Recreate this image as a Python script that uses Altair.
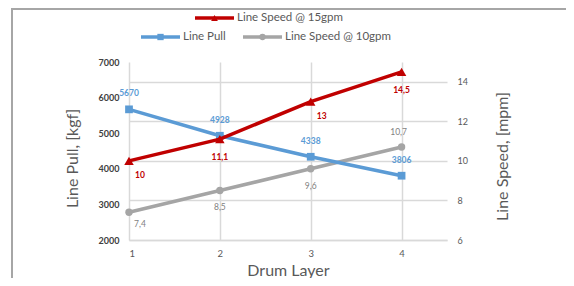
import altair as alt
import pandas as pd

# ---- data ----
layers = [1, 2, 3, 4]
line_pull = [5670, 4928, 4338, 3806]
speed_10gpm = [7.4, 8.5, 9.6, 10.7]
speed_15gpm = [10.0, 11.1, 13.0, 14.5]
x_ticks = [1, 2, 3, 4]
right_ticks = [6, 8, 10, 12, 14]
left_ticks = [2000, 3000, 4000, 5000, 6000, 7000]
series_names = ["Line Speed @ 15gpm", "Line Pull", "Line Speed @ 10gpm"]

BLUE = "#5B9BD5"
RED = "#C00000"
GRAY = "#A5A5A5"
TXT = "#595959"
GRID = "#D9D9D9"
FONT = "Lato"


def fmt(v):
    return f"{v:g}".replace(".", ",")


df = pd.DataFrame({
    "layer": layers,
    "idx": list(range(len(layers))),
    "pull": line_pull,
    "pull_lbl": [str(v) for v in line_pull],
    "s10": speed_10gpm,
    "s10_lbl": [fmt(v) for v in speed_10gpm],
    "s15": speed_15gpm,
    "s15_lbl": [fmt(v) for v in speed_15gpm],
})

W, H = 318, 178

x_enc = alt.X("layer:Q", scale=alt.Scale(domain=[1, 4.5], nice=False, zero=False),
              axis=alt.Axis(values=x_ticks, format="d", grid=True, gridColor=GRID, gridWidth=1.5,
                            ticks=False, domain=True, domainColor=GRID, domainWidth=1.5,
                            labelColor=TXT, labelFontSize=9.5, labelPadding=8,
                            title="Drum Layer", titleFontSize=16, titleColor=TXT,
                            titleFontWeight="normal", titleY=30, titleBaseline="middle"))

left_scale = alt.Scale(domain=[2000, 7000], nice=False, zero=False)
right_scale = alt.Scale(domain=[6, 15], nice=False, zero=False)

y_gray = alt.Y("s10:Q", scale=right_scale,
               axis=alt.Axis(orient="right", values=right_ticks, format="d", grid=True, gridColor=GRID,
                             gridWidth=1.5, ticks=False, domain=False, labelColor=TXT, labelFontSize=9,
                             labelPadding=10, title="Line Speed, [mpm]", titleFontSize=16,
                             titleColor=TXT, titleFontWeight="normal", titleAngle=270,
                             titleX=55, titleY=94, titleAlign="center", titleBaseline="middle"))
y_blue = alt.Y("pull:Q", scale=left_scale,
               axis=alt.Axis(orient="left", values=left_ticks, format="d", grid=False, ticks=False,
                             domain=False, labelColor="#404040", labelFontSize=9, labelFontWeight="bold",
                             labelPadding=10, title="Line Pull, [kgf]", titleFontSize=16,
                             titleColor=TXT, titleFontWeight="normal", titleAngle=270,
                             titleX=-57, titleY=96, titleAlign="center", titleBaseline="middle"))
y_red = alt.Y("s15:Q", scale=right_scale,
              axis=alt.Axis(orient="right", labels=False, ticks=False, domain=False, grid=False,
                            title="", values=right_ticks))

base = alt.Chart(df)


def lbl(y, txtfield, color, filt, dx, dy, size, weight):
    return base.transform_filter(filt).mark_text(
        color=color, fontSize=size, fontWeight=weight, dx=dx, dy=dy, font=FONT
    ).encode(x=x_enc, y=y, text=f"{txtfield}:N")


# ---- gray series (right axis with grid) ----
gray_group = alt.layer(
    base.mark_line(color=GRAY, strokeWidth=3.5).encode(x=x_enc, y=y_gray),
    base.mark_point(shape="circle", filled=True, opacity=1, size=55, color=GRAY).encode(x=x_enc, y=y_gray),
    lbl(y_gray, "s10_lbl", "#7F7F7F", "datum.idx == 0", 11, 12, 8.5, "normal"),
    lbl(y_gray, "s10_lbl", "#7F7F7F", "datum.idx == 1", 0, 16, 8.5, "normal"),
    lbl(y_gray, "s10_lbl", "#7F7F7F", "datum.idx == 2", 0, 17, 8.5, "normal"),
    lbl(y_gray, "s10_lbl", "#7F7F7F", "datum.idx == 3", -3, -15, 8.5, "normal"),
)

# ---- blue series (left axis) ----
blue_group = alt.layer(
    base.mark_line(color=BLUE, strokeWidth=3.5).encode(x=x_enc, y=y_blue),
    base.mark_point(shape="square", filled=True, opacity=1, size=60, color=BLUE).encode(x=x_enc, y=y_blue),
    lbl(y_blue, "pull_lbl", BLUE, "true", 0, -16, 8.5, "bold"),
)

# ---- red series (same right scale, invisible axis) ----
red_group = alt.layer(
    base.mark_line(color=RED, strokeWidth=3.5).encode(x=x_enc, y=y_red),
    base.mark_point(shape="triangle-up", filled=True, opacity=1, size=90, color=RED).encode(x=x_enc, y=y_red),
    lbl(y_red, "s15_lbl", RED, "datum.idx == 0 || datum.idx == 2", 11, 14, 8.5, "bold"),
    lbl(y_red, "s15_lbl", RED, "datum.idx == 1 || datum.idx == 3", 0, 18, 8.5, "bold"),
)

# ---- manual legend (Excel style, two rows) ----
leg_df = pd.DataFrame({"series": series_names, "i": [0, 1, 2]})
leg = alt.Chart(leg_df)


def legend_item(i, color, shape, size, x0, y):
    d = leg.transform_filter(f"datum.i == {i}")
    r = d.mark_rule(color=color, strokeWidth=3.5).encode(
        x=alt.value(x0), x2=alt.value(x0 + 39), y=alt.value(y))
    p = d.mark_point(shape=shape, filled=True, opacity=1, size=size, color=color).encode(
        x=alt.value(x0 + 19.5), y=alt.value(y))
    t = d.mark_text(align="left", baseline="middle", fontSize=11.5, color=TXT, font=FONT).encode(
        x=alt.value(x0 + 42), y=alt.value(y), text="series:N")
    return alt.layer(r, p, t)


legend = alt.layer(
    legend_item(0, RED, "triangle-up", 45, 66, -44),
    legend_item(1, BLUE, "square", 40, 12, -25),
    legend_item(2, GRAY, "circle", 40, 114, -25),
)

# ---- frame lines of the screenshot ----
frame_df = pd.DataFrame({"k": [0]})
frame = alt.layer(
    alt.Chart(frame_df).mark_rule(color="#A6A6A6", strokeWidth=2).encode(
        x=alt.value(-117), y=alt.value(-60), y2=alt.value(H + 60)),
    alt.Chart(frame_df).mark_rule(color="#A6A6A6", strokeWidth=2).encode(
        x=alt.value(-117), x2=alt.value(W + 130), y=alt.value(-53)),
)

chart = alt.layer(gray_group, blue_group, red_group, legend, frame).resolve_scale(
    y="independent"
).properties(
    width=W, height=H,
    autosize=alt.AutoSizeParams(type="none"),
    padding={"left": 121, "top": 54, "right": 119, "bottom": 38},
).configure(font=FONT, view=alt.ViewConfig(stroke=None))

chart.save("out.html", embed_options={"renderer": "svg", "actions": False})
